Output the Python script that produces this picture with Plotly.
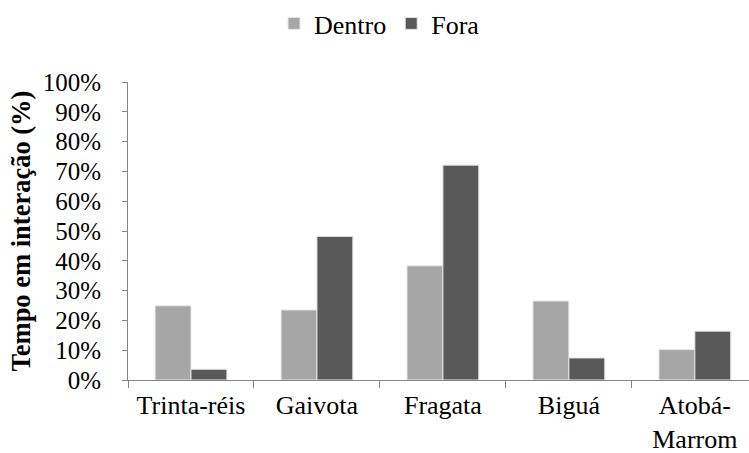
import plotly.graph_objects as go

categories = ["Trinta-réis", "Gaivota", "Fragata", "Biguá", "Atobá-<br>Marrom"]
dentro = [0.249, 0.235, 0.383, 0.265, 0.102]
fora = [0.036, 0.482, 0.721, 0.074, 0.164]
series_names = ["Dentro", "Fora"]
y_ticks = [i / 10 for i in range(11)]

FONT = "Liberation Serif"
AXIS = "#868686"

fig = go.Figure()
fig.add_trace(go.Bar(x=categories, y=dentro, name=series_names[0],
                     marker=dict(color="#A6A6A6", line=dict(color="#E6E6E6", width=1))))
fig.add_trace(go.Bar(x=categories, y=fora, name=series_names[1],
                     marker=dict(color="#595959", line=dict(color="#E6E6E6", width=1))))

fig.update_layout(
    width=749, height=453,
    margin=dict(l=128, r=0, t=75, b=73),
    paper_bgcolor="white", plot_bgcolor="white",
    font=dict(family=FONT, size=25, color="black"),
    barmode="group", bargap=0.43, bargroupgap=0,
    showlegend=True,
    legend=dict(orientation="h", x=0.405, xanchor="center", y=1.198, yanchor="middle",
                font=dict(family=FONT, size=26), itemwidth=30, traceorder="normal"),
    xaxis=dict(type="category", range=[-0.5, 4.43], showline=True, linecolor=AXIS, linewidth=1,
               ticks="outside", ticklen=7, tickcolor=AXIS, tickson="boundaries",
               showgrid=False, zeroline=False, automargin=False, ticklabelstandoff=2,
               tickfont=dict(family=FONT, size=26)),
    yaxis=dict(range=[0, 1], tickvals=y_ticks, tickformat=".0%", showline=True, linecolor=AXIS,
               linewidth=1, ticks="outside", ticklen=5, tickcolor=AXIS, showgrid=False,
               zeroline=False, automargin=False, ticklabelstandoff=16,
               tickfont=dict(family=FONT, size=25),
               title=dict(text="<b>Tempo em interação (%)</b>",
                          font=dict(family=FONT, size=26.5), standoff=4)),
)

fig.write_html("out.html", config={"displayModeBar": False},
               post_script="document.body.style.margin='0';document.body.style.overflow='hidden';")
